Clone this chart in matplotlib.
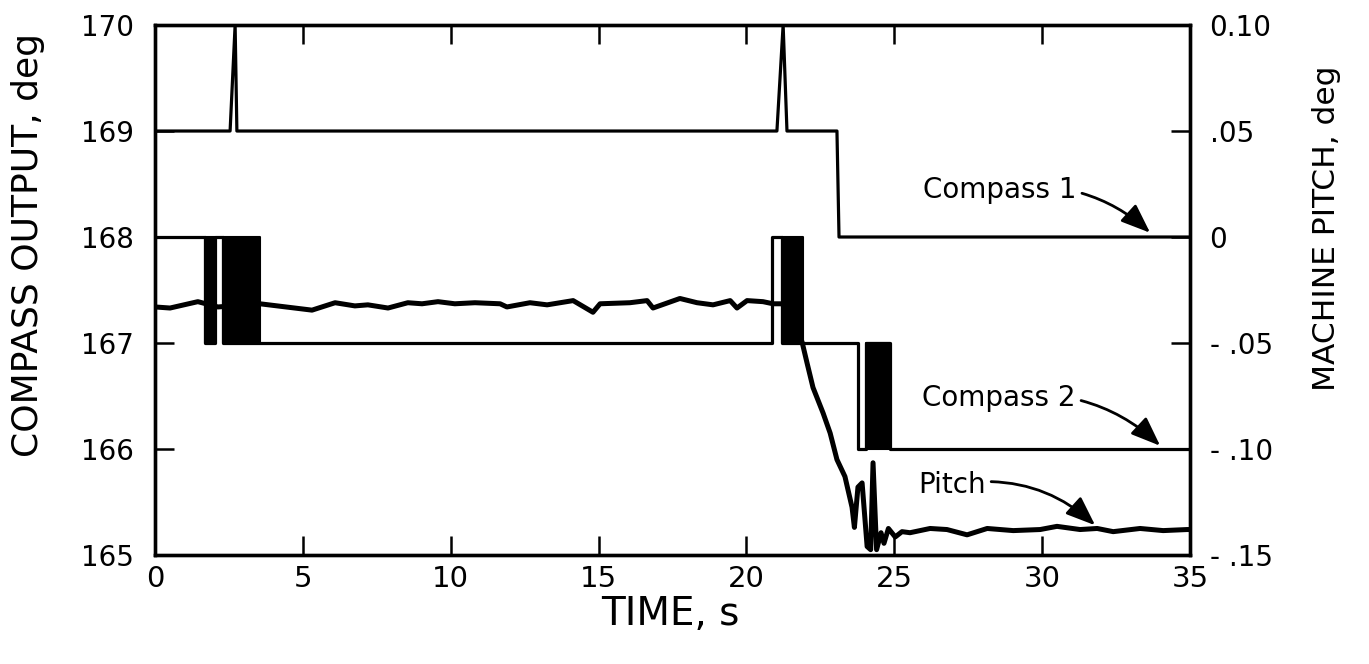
import matplotlib
matplotlib.use("Agg")
import matplotlib.pyplot as plt

# compass 1 (left axis, deg)
c1_t = [0, 2.54, 2.71, 2.77, 21.03, 21.24, 21.37, 23.06, 23.13, 35]
c1_v = [169, 169, 170, 169, 169, 170, 169, 169, 168, 168]

# compass 2 (left axis, deg), steps-post
c2_t = [0, 1.69, 2.03, 2.29, 3.55, 20.87, 21.2, 21.9, 23.77, 24.04, 24.86, 35]
c2_v = [168, 167, 168, 167, 167, 168, 167, 167, 166, 167, 166, 166]

# intervals where compass 2 chatters too fast to resolve
chat_t0 = [1.69, 2.29, 21.2, 24.04]
chat_t1 = [2.03, 3.55, 21.9, 24.86]
chat_lo = [167, 167, 167, 166]
chat_hi = [168, 168, 168, 167]

# machine pitch (right axis, deg)
pitch_t = [0, 0.51, 1.45, 2.13, 3.55, 5.31, 6.09, 6.76, 7.20, 7.88,
           8.55, 9.03, 9.57, 10.14, 10.82, 11.67, 11.90, 12.68, 13.26, 14.14,
           14.81, 15.05, 16.06, 16.64, 16.84, 17.75, 18.33, 18.87, 19.45, 19.68,
           20.02, 20.56, 20.90, 21.20, 21.54, 21.88, 22.05, 22.25, 22.59, 22.83,
           23.06, 23.33, 23.57, 23.65, 23.77, 23.91, 24.08, 24.20, 24.28, 24.40,
           24.55, 24.65, 24.80, 25.03, 25.26, 25.53, 26.21, 26.78, 27.46, 28.14,
           29.02, 29.93, 30.50, 31.28, 31.86, 32.40, 33.31, 34.09, 34.90, 35.0]
pitch_v = [-0.033, -0.0335, -0.0305, -0.033, -0.0315, -0.0345, -0.031, -0.0325, -0.032, -0.0335,
           -0.031, -0.0315, -0.0305, -0.0315, -0.031, -0.0315, -0.033, -0.031, -0.032, -0.030,
           -0.0355, -0.0315, -0.031, -0.030, -0.0335, -0.029, -0.031, -0.032, -0.030, -0.0335,
           -0.030, -0.0305, -0.0315, -0.0315, -0.0375, -0.0495, -0.0595, -0.071, -0.083, -0.0925,
           -0.105, -0.113, -0.1275, -0.137, -0.118, -0.116, -0.146, -0.1475, -0.1065, -0.1475,
           -0.1395, -0.1445, -0.1375, -0.1415, -0.139, -0.1395, -0.1375, -0.138, -0.1405, -0.1375,
           -0.1385, -0.138, -0.1365, -0.138, -0.1375, -0.139, -0.1375, -0.1385, -0.138, -0.138]

left_ticks = [165, 166, 167, 168, 169, 170]
right_ticks = [-0.15, -0.10, -0.05, 0, 0.05, 0.10]
right_labels = ["- .15", "- .10", "- .05", "0", ".05", "0.10"]
x_ticks = [0, 5, 10, 15, 20, 25, 30, 35]

fig = plt.figure(figsize=(13.69, 6.64), dpi=100)
ax = fig.add_axes([0.1132, 0.1642, 0.7561, 0.7981])
ax2 = ax.twinx()

ax.plot(c1_t, c1_v, color="black", lw=2.3)
ax.plot(c2_t, c2_v, color="black", lw=2.3, drawstyle="steps-post")
for t0, t1, lo, hi in zip(chat_t0, chat_t1, chat_lo, chat_hi):
    ax.fill_between([t0, t1], lo, hi, color="black", lw=1.5, edgecolor="black")
ax2.plot(pitch_t, pitch_v, color="black", lw=3.6, solid_joinstyle="round")

ax.set_xlim(0, 35)
ax.set_ylim(165, 170)
ax2.set_ylim(-0.15, 0.10)

ax.set_xticks(x_ticks)
ax.set_xticklabels([str(v) for v in x_ticks], fontsize=21)
ax.set_yticks(left_ticks)
ax.set_yticklabels([str(v) for v in left_ticks], fontsize=20)
ax2.set_yticks(right_ticks)
ax2.set_yticklabels(right_labels, fontsize=20)

ax.tick_params(axis="x", direction="in", length=14, width=1.8, top=True, pad=7)
ax.tick_params(axis="y", direction="in", length=14, width=1.8, pad=15)
ax2.tick_params(axis="y", direction="in", length=14, width=1.8, pad=14)
for a in (ax, ax2):
    for s in a.spines.values():
        s.set_linewidth(2.4)

# curve labels
arrow = dict(arrowstyle="-|>,head_length=0.9,head_width=0.35", color="black",
             lw=2.0, connectionstyle="arc3,rad=-0.25", shrinkA=2, shrinkB=0)
ax.annotate("Compass 1", xy=(33.65, 168.04), xytext=(25.97, 168.44),
            fontsize=20, va="center", ha="left", arrowprops=arrow)
ax.annotate("Compass 2", xy=(33.99, 166.03), xytext=(25.94, 166.48),
            fontsize=20, va="center", ha="left", arrowprops=arrow)
ax.annotate("Pitch", xy=(31.79, 165.28), xytext=(25.8, 165.66),
            fontsize=20, va="center", ha="left", arrowprops=arrow)

fig.text(0.0205, 0.631, "COMPASS OUTPUT, deg", rotation=90, ha="center", va="center",
         fontsize=26)
fig.text(0.9686, 0.6566, "MACHINE PITCH, deg", rotation=90, ha="center", va="center",
         fontsize=22.5)
fig.text(0.490, 0.075, "TIME, s", ha="center", va="center", fontsize=28)

fig.savefig("out.png", dpi=100)
